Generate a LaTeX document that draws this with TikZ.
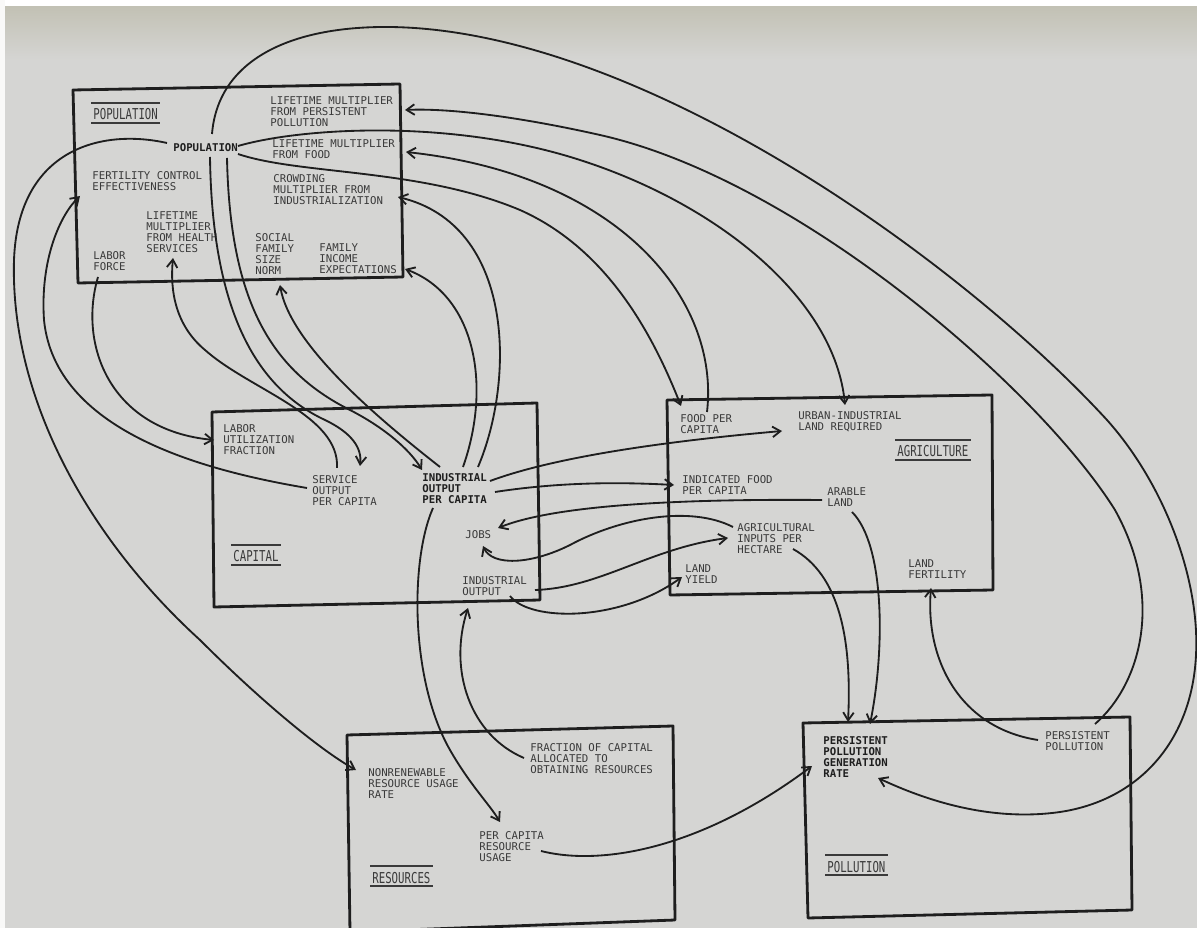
\documentclass[tikz,border=0pt]{standalone}
\usepackage{fontspec}
\newfontfamily\pfont{DejaVu Sans Mono}
\usetikzlibrary{arrows.meta}
\definecolor{bg}{HTML}{D5D5D3}
\definecolor{ink}{HTML}{1E1E1E}
\definecolor{txt}{HTML}{3A3A3A}
\definecolor{band}{HTML}{C2C1B4}
\begin{document}
\begin{tikzpicture}[x=0.02cm,y=-0.02cm,
 lbl/.style={font=\pfont\fontsize{6.1pt}{6.26pt}\selectfont, text=txt, inner sep=0pt, align=left, anchor=north west},
 blbl/.style={lbl, font=\pfont\bfseries\fontsize{6.1pt}{6.26pt}\selectfont, text=ink},
 ttl/.style={font=\pfont\fontsize{6.1pt}{6.26pt}\selectfont, text=txt, inner sep=0pt, anchor=base west},
 box/.style={draw=ink, line width=1.6pt, line join=round},
 conn/.style={draw=ink, line width=1.05pt, -{Straight Barb[length=4.5pt,width=6pt]}},
 tline/.style={draw=txt, line width=1.1pt}]
\useasboundingbox (0,0) rectangle (1197,928);
\clip (0,0) rectangle (1197,928);
% background
\fill[bg] (0,0) rectangle (1197,928);
\shade[top color=band, bottom color=bg] (0,6) rectangle (1197,60);
\fill[white] (0,0) rectangle (1197,6);
\fill[white!85!bg] (0,0) rectangle (5,928);
% boxes
\draw[box] (73,90) -- (400,84) -- (403,277) -- (78,283) -- cycle;
\draw[box] (212,412) -- (537,403) -- (540,600) -- (214,607) -- cycle;
\draw[box] (667,400) -- (992,395) -- (993,590) -- (670,595) -- cycle;
\draw[box] (347,735) -- (673,726) -- (675,920) -- (350,932) -- cycle;
\draw[box] (803,723) -- (1130,717) -- (1132,910) -- (808,918) -- cycle;
% text nodes
\node[lbl]  (lmfpp) at (270,96)  {LIFETIME MULTIPLIER\\FROM PERSISTENT\\POLLUTION};
\node[blbl] (pop)   at (173,143) {POPULATION};
\node[lbl]  (lmff)  at (272,139) {LIFETIME MULTIPLIER\\FROM FOOD};
\node[lbl]  (fce)   at (92,171)  {FERTILITY CONTROL\\EFFECTIVENESS};
\node[lbl]  (cmfi)  at (273,174) {CROWDING\\MULTIPLIER FROM\\INDUSTRIALIZATION};
\node[lbl]  (lmfhs) at (146,211) {LIFETIME\\MULTIPLIER\\FROM HEALTH\\SERVICES};
\node[lbl]  (sfsn)  at (255,233) {SOCIAL\\FAMILY\\SIZE\\NORM};
\node[lbl]  (fie)   at (319,243) {FAMILY\\INCOME\\EXPECTATIONS};
\node[lbl]  (lf)    at (93,251)  {LABOR\\FORCE};
\node[lbl]  (luf)   at (223,424) {LABOR\\UTILIZATION\\FRACTION};
\node[lbl]  (sopc)  at (312,475) {SERVICE\\OUTPUT\\PER CAPITA};
\node[blbl] (iopc)  at (422,473) {INDUSTRIAL\\OUTPUT\\PER CAPITA};
\node[lbl]  (jobs)  at (465,530) {JOBS};
\node[lbl]  (io)    at (462,576) {INDUSTRIAL\\OUTPUT};
\node[lbl]  (fpc)   at (680,414) {FOOD PER\\CAPITA};
\node[lbl]  (uilr)  at (798,411) {URBAN-INDUSTRIAL\\LAND REQUIRED};
\node[lbl]  (ifpc)  at (682,475) {INDICATED FOOD\\PER CAPITA};
\node[lbl]  (al)    at (827,487) {ARABLE\\LAND};
\node[lbl]  (aiph)  at (737,523) {AGRICULTURAL\\INPUTS PER\\HECTARE};
\node[lbl]  (ly)    at (685,564) {LAND\\YIELD};
\node[lbl]  (lfert) at (908,559) {LAND\\FERTILITY};
\node[lbl]  (fcaor) at (530,743) {FRACTION OF CAPITAL\\ALLOCATED TO\\OBTAINING RESOURCES};
\node[lbl]  (nrur)  at (368,768) {NONRENEWABLE\\RESOURCE USAGE\\RATE};
\node[lbl]  (pcru)  at (479,831) {PER CAPITA\\RESOURCE\\USAGE};
\node[blbl] (ppgr)  at (823,736) {PERSISTENT\\POLLUTION\\GENERATION\\RATE};
\node[lbl]  (pp)    at (1045,731) {PERSISTENT\\POLLUTION};
% sector titles
\node[ttl] (tpop) at (93,120)  {\scalebox{1}[1.4]{POPULATION}};
\node[ttl] (tcap) at (233,562) {\scalebox{1}[1.4]{CAPITAL}};
\node[ttl] (tagr) at (897,457) {\scalebox{1}[1.4]{AGRICULTURE}};
\node[ttl] (tres) at (372,883) {\scalebox{1}[1.4]{RESOURCES}};
\node[ttl] (tpol) at (827,872) {\scalebox{1}[1.4]{POLLUTION}};
\foreach \t in {tpop,tcap,tagr,tres,tpol}{
  \draw[tline] ([shift={(-2,-17)}]\t.base west) -- ([shift={(2,-17)}]\t.base east);
  \draw[tline] ([shift={(-2,3)}]\t.base west) -- ([shift={(2,3)}]\t.base east);
}
% connectors
\draw[conn] ([shift={(39,-9)}]pop.north west) .. controls (218,60) and (290,26) .. (390,27) .. controls (640,30) and (960,260) .. (1107,420) .. controls (1165,485) and (1200,580) .. (1196,655) .. controls (1192,740) and (1140,800) .. (1060,812) .. controls (990,822) and (925,800) .. ([shift={(55,42)}]ppgr.north west);
\draw[conn] ([shift={(50,-7)}]pp.north west) .. controls (1140,685) and (1165,600) .. (1115,510) .. controls (1040,390) and (800,180) .. (600,135) .. controls (520,117) and (450,108) .. ([shift={(135,14)}]lmfpp.north west);
\draw[conn] ([shift={(65,3)}]pop.north west) .. controls (300,128) and (450,118) .. (580,160) .. controls (720,205) and (835,300) .. ([shift={(47,-6)}]uilr.north west);
\draw[conn] ([shift={(65,11)}]pop.north west) .. controls (300,175) and (420,168) .. (520,210) .. controls (610,250) and (655,340) .. ([shift={(1,-8)}]fpc.north west);
\draw[conn] ([shift={(27,-2)}]fpc.north west) .. controls (720,300) and (620,175) .. ([shift={(134,13)}]lmff.north west);
\draw[conn] ([shift={(56,-6)}]iopc.north west) .. controls (515,380) and (515,225) .. ([shift={(125,23)}]cmfi.north west);
\draw[conn] ([shift={(41,-6)}]iopc.north west) .. controls (492,385) and (475,295) .. ([shift={(86,26)}]fie.north west);
\draw[conn] ([shift={(18,-6)}]iopc.north west) .. controls (380,420) and (290,345) .. ([shift={(25,52)}]sfsn.north west);
\draw[conn] ([shift={(37,14)}]pop.north west) .. controls (212,300) and (250,385) .. (325,420) .. controls (352,433) and (362,448) .. ([shift={(48,-9)}]sopc.north west);
\draw[conn] ([shift={(54,15)}]pop.north west) .. controls (230,300) and (270,370) .. (350,410) .. controls (385,428) and (410,450) .. ([shift={(0,-3)}]iopc.north west);
\draw[conn] ([shift={(25,-7)}]sopc.north west) .. controls (340,415) and (250,390) .. (205,350) .. controls (175,325) and (170,290) .. ([shift={(27,47)}]lmfhs.north west);
\draw[conn] ([shift={(-5,13)}]sopc.north west) .. controls (200,470) and (55,430) .. (44,320) .. controls (40,260) and (60,215) .. ([shift={(-12,25)}]fce.north west);
\draw[conn] ([shift={(5,26)}]lf.north west) .. controls (78,345) and (110,430) .. ([shift={(-9,16)}]luf.north west);
\draw[conn] ([shift={(-6,0)}]pop.north west) .. controls (100,128) and (18,150) .. (14,260) .. controls (10,400) and (90,540) .. (200,640) .. controls (260,700) and (320,750) .. ([shift={(-12,2)}]nrur.north west);
\draw[conn] ([shift={(68,8)}]iopc.north west) .. controls (560,455) and (680,440) .. ([shift={(-16,20)}]uilr.north west);
\draw[conn] ([shift={(73,19)}]iopc.north west) .. controls (560,482) and (620,482) .. ([shift={(-8,10)}]ifpc.north west);
\draw[conn] ([shift={(-5,13)}]al.north west) .. controls (700,499) and (560,503) .. ([shift={(33,-2)}]jobs.north west);
\draw[conn] ([shift={(-4,4)}]aiph.north west) .. controls (690,505) and (620,518) .. (570,545) .. controls (530,565) and (492,566) .. ([shift={(18,16)}]jobs.north west);
\draw[conn] ([shift={(73,14)}]io.north west) .. controls (600,588) and (650,548) .. ([shift={(-9,15)}]aiph.north west);
\draw[conn] ([shift={(48,20)}]io.north west) .. controls (530,622) and (620,622) .. ([shift={(-3,13)}]ly.north west);
\draw[conn] ([shift={(11,35)}]iopc.north west) .. controls (410,560) and (410,680) .. (450,750) .. controls (470,785) and (490,805) .. ([shift={(21,-9)}]pcru.north west);
\draw[conn] ([shift={(-6,15)}]fcaor.north west) .. controls (470,735) and (448,670) .. ([shift={(6,32)}]io.north west);
\draw[conn] ([shift={(62,20)}]pcru.north west) .. controls (600,866) and (700,850) .. ([shift={(-11,30)}]ppgr.north west);
\draw[conn] ([shift={(56,26)}]aiph.north west) .. controls (840,575) and (852,640) .. ([shift={(25,-14)}]ppgr.north west);
\draw[conn] ([shift={(25,25)}]al.north west) .. controls (885,545) and (885,650) .. ([shift={(47,-12)}]ppgr.north west);
\draw[conn] ([shift={(-7,9)}]pp.north west) .. controls (960,728) and (925,660) .. ([shift={(23,29)}]lfert.north west);
\end{tikzpicture}
\end{document}
